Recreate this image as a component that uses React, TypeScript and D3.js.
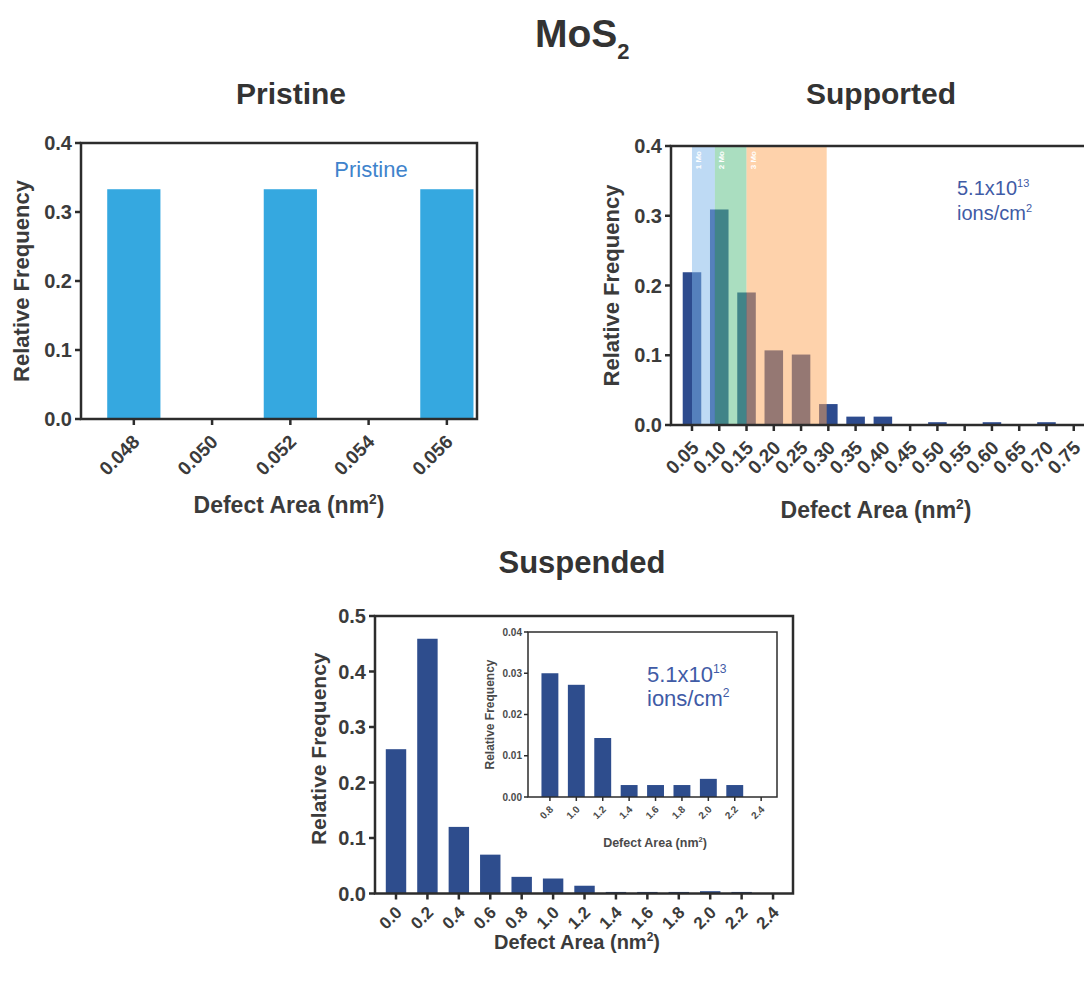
import React from 'react';
import * as d3 from 'd3';

const FONT = "'Liberation Sans', Arial, Helvetica, sans-serif";
const TEXT = '#3b3b3b';
const AXIS = '#2c2c2c';

// Pristine MoS2: defect area distribution
const pristineAreas = [0.048, 0.052, 0.056];
const pristineFreq = [0.333, 0.333, 0.333];
const pristineXTicks = [0.048, 0.05, 0.052, 0.054, 0.056];
const pristineYTicks = [0, 0.1, 0.2, 0.3, 0.4];

// Supported MoS2 after 5.1x10^13 ions/cm^2
const supportedAreas = [0.05, 0.1, 0.15, 0.2, 0.25, 0.3, 0.35, 0.4, 0.45, 0.5, 0.55, 0.6, 0.65, 0.7, 0.75];
const supportedFreq = [0.219, 0.309, 0.19, 0.107, 0.101, 0.03, 0.012, 0.012, 0, 0.004, 0, 0.004, 0, 0.004, 0];
const supportedYTicks = [0, 0.1, 0.2, 0.3, 0.4];
// shaded ranges for vacancy clusters
const bandStarts = [0.05, 0.092, 0.15];
const bandEnds = [0.092, 0.15, 0.297];
const bandLabels = ['1 Mo', '2 Mo', '3 Mo'];
const bandColors = ['#7db6ea', '#56bd82', '#fda658'];

// Suspended MoS2 after 5.1x10^13 ions/cm^2
const suspendedAreas = [0, 0.2, 0.4, 0.6, 0.8, 1.0, 1.2, 1.4, 1.6, 1.8, 2.0, 2.2, 2.4];
const suspendedFreq = [0.26, 0.459, 0.12, 0.07, 0.03, 0.027, 0.014, 0.0028, 0.0028, 0.0028, 0.0042, 0.0028, 0];
const suspendedYTicks = [0, 0.1, 0.2, 0.3, 0.4, 0.5];

// Zoomed tail of the suspended distribution
const insetAreas = [0.8, 1.0, 1.2, 1.4, 1.6, 1.8, 2.0, 2.2, 2.4];
const insetFreq = [0.03, 0.0272, 0.0143, 0.0029, 0.0029, 0.0029, 0.0044, 0.0029, 0];
const insetYTicks = [0, 0.01, 0.02, 0.03, 0.04];

type PanelProps = {
  left: number; right: number; top: number; bottom: number;
  xDomain: [number, number]; yMax: number;
  areas: number[]; freq: number[];
  xTicks: number[]; yTicks: number[];
  xDigits: number; yDigits: number;
  barFrac: number; barColor: string;
  stroke: number; tickLen: number;
  yTickFont: number; xTickFont: number;
  xTickDx: number; xTickDy: number; yTickGap: number;
  yLabelX: number; yLabelFont: number; yLabelWeight?: number; yLabelShift?: number;
  xLabelX: number; xLabelY: number; xLabelFont: number; xLabelWeight?: number;
  color: string;
  weight: number | string;
  overlay?: (x: d3.ScaleLinear<number, number>, y: d3.ScaleLinear<number, number>) => React.ReactNode;
  background?: boolean;
};

function Panel(p: PanelProps) {
  const x = d3.scaleLinear().domain(p.xDomain).range([p.left, p.right]);
  const y = d3.scaleLinear().domain([0, p.yMax]).range([p.bottom, p.top]);
  const step = x(p.xTicks[1]) - x(p.xTicks[0]);
  const bw = step * p.barFrac;
  const fx = d3.format(`.${p.xDigits}f`);
  const fy = d3.format(`.${p.yDigits}f`);
  const supSize = p.xLabelFont * 0.6;
  return (
    <g fontFamily={FONT}>
      {p.background && (
        <rect x={p.left} y={p.top} width={p.right - p.left} height={p.bottom - p.top} fill="#fff" />
      )}
      {p.areas.map((a, i) =>
        p.freq[i] > 0 ? (
          <rect key={i} x={x(a) - bw / 2} y={y(p.freq[i])} width={bw} height={y(0) - y(p.freq[i])} fill={p.barColor} />
        ) : null
      )}
      {p.overlay && p.overlay(x, y)}
      <rect x={p.left} y={p.top} width={p.right - p.left} height={p.bottom - p.top} fill="none" stroke={AXIS} strokeWidth={p.stroke} />
      {p.yTicks.map((t) => (
        <g key={'y' + t}>
          <line x1={p.left - p.tickLen} x2={p.left} y1={y(t)} y2={y(t)} stroke={AXIS} strokeWidth={p.stroke} />
          <text x={p.left - p.tickLen - p.yTickGap} y={y(t)} dy="0.35em" textAnchor="end" fontSize={p.yTickFont} fontWeight={p.weight} fill={p.color}>
            {fy(t)}
          </text>
        </g>
      ))}
      {p.xTicks.map((t) => (
        <g key={'x' + t}>
          <line x1={x(t)} x2={x(t)} y1={p.bottom} y2={p.bottom + p.tickLen} stroke={AXIS} strokeWidth={p.stroke} />
          <text transform={`translate(${x(t) + p.xTickDx},${p.bottom + p.xTickDy}) rotate(-45)`} textAnchor="end" fontSize={p.xTickFont} fontWeight={p.weight} fill={p.color}>
            {fx(t)}
          </text>
        </g>
      ))}
      <text transform={`translate(${p.yLabelX},${(p.top + p.bottom) / 2 + (p.yLabelShift ?? 0)}) rotate(-90)`} textAnchor="middle" fontSize={p.yLabelFont} fontWeight={p.yLabelWeight ?? p.weight} fill={p.color}>
        Relative Frequency
      </text>
      <text x={p.xLabelX} y={p.xLabelY} textAnchor="middle" fontSize={p.xLabelFont} fontWeight={p.xLabelWeight ?? p.weight} fill={p.color}>
        Defect Area (nm
        <tspan fontSize={supSize} dy={-p.xLabelFont * 0.38}>2</tspan>
        <tspan dy={p.xLabelFont * 0.38}>)</tspan>
      </text>
    </g>
  );
}

function Dose({ x, y, size, gap, color }: { x: number; y: number; size: number; gap: number; color: string }) {
  return (
    <text x={x} y={y} fontFamily={FONT} fontSize={size} fill={color}>
      <tspan x={x}>
        5.1x10
        <tspan fontSize={size * 0.55} dy={-size * 0.42}>13</tspan>
      </tspan>
      <tspan x={x} y={y + gap}>
        ions/cm
        <tspan fontSize={size * 0.55} dy={-size * 0.42}>2</tspan>
      </tspan>
    </text>
  );
}

export default function App() {
  const W = 1084;
  const H = 988;
  const title = { fontFamily: FONT, fontWeight: 700, fill: '#333', textAnchor: 'middle' as const };
  return (
    <svg width={W} height={H} style={{ position: 'absolute', left: 0, top: 0, background: '#fff' }}>
      <rect width={W} height={H} fill="#fff" />
      <text x={535} y={47} fontSize={39} fontFamily={FONT} fontWeight={700} fill="#333">
        MoS<tspan fontSize={22} dy={12}>2</tspan>
      </text>
      <text x={291} y={104} fontSize={30} {...title}>Pristine</text>
      <text x={881} y={104} fontSize={30} {...title}>Supported</text>
      <text x={582} y={573} fontSize={31} {...title}>Suspended</text>

      <Panel
        left={81} right={477} top={143} bottom={419}
        xDomain={[0.04665, 0.05677]} yMax={0.4}
        areas={pristineAreas} freq={pristineFreq}
        xTicks={pristineXTicks} yTicks={pristineYTicks}
        xDigits={3} yDigits={1}
        barFrac={0.68} barColor="#35a8e0"
        stroke={2.5} tickLen={6}
        yTickFont={20} xTickFont={19} xTickDx={7} xTickDy={24} yTickGap={3}
        yLabelX={29} yLabelFont={22}
        xLabelX={289} xLabelY={513} xLabelFont={23}
        color={TEXT} weight={700}
        overlay={() => (
          <text x={371} y={177} textAnchor="middle" fontFamily={FONT} fontSize={22} fill="#3f83cc">Pristine</text>
        )}
      />

      <Panel
        left={671} right={1090} top={146} bottom={425}
        xDomain={[0.01152, 0.7798]} yMax={0.4}
        areas={supportedAreas} freq={supportedFreq}
        xTicks={supportedAreas} yTicks={supportedYTicks}
        xDigits={2} yDigits={1}
        barFrac={0.68} barColor="#2d4b8e"
        stroke={2.5} tickLen={6}
        yTickFont={20} xTickFont={19} xTickDx={8} xTickDy={24} yTickGap={3}
        yLabelX={619} yLabelFont={22}
        xLabelX={876} xLabelY={518} xLabelFont={23}
        color={TEXT} weight={700}
        overlay={(x, y) => (
          <g>
            {bandStarts.map((s, i) => (
              <g key={i}>
                <rect x={x(s)} y={y(0.4) + 1} width={x(bandEnds[i]) - x(s)} height={y(0) - y(0.4) - 1} fill={bandColors[i]} opacity={0.5} />
                <text transform={`translate(${x(s) + 9},${y(0.4) + 5}) rotate(-90)`} textAnchor="end" fontFamily={FONT} fontSize={8} fontWeight={700} fill="#fff">
                  {bandLabels[i]}
                </text>
              </g>
            ))}
            <Dose x={957} y={195} size={20} gap={25} color="#3f5ba6" />
          </g>
        )}
      />

      <Panel
        left={375} right={793} top={616} bottom={893.5}
        xDomain={[-0.1337, 2.527]} yMax={0.5}
        areas={suspendedAreas} freq={suspendedFreq}
        xTicks={suspendedAreas} yTicks={suspendedYTicks}
        xDigits={1} yDigits={1}
        barFrac={0.65} barColor="#2e4d8d"
        stroke={2.5} tickLen={6}
        yTickFont={20} xTickFont={17} xTickDx={7} xTickDy={20} yTickGap={3}
        yLabelX={326} yLabelFont={21} yLabelShift={-6}
        xLabelX={577} xLabelY={949} xLabelFont={20}
        color={TEXT} weight={700}
      />

      <Panel
        left={528} right={777} top={632} bottom={797}
        xDomain={[0.634, 2.52]} yMax={0.04}
        areas={insetAreas} freq={insetFreq}
        xTicks={insetAreas} yTicks={insetYTicks}
        xDigits={1} yDigits={2}
        barFrac={0.64} barColor="#2e4d8d"
        stroke={1.5} tickLen={4}
        yTickFont={10} xTickFont={10} xTickDx={4} xTickDy={13} yTickGap={2}
        yLabelX={494} yLabelFont={12} yLabelWeight={600}
        xLabelX={655} xLabelY={847} xLabelFont={12.5} xLabelWeight={600}
        color="#4a4a4a" weight={700}
        background
        overlay={() => <Dose x={647} y={682} size={22} gap={24} color="#3f5ba6" />}
      />
    </svg>
  );
}
